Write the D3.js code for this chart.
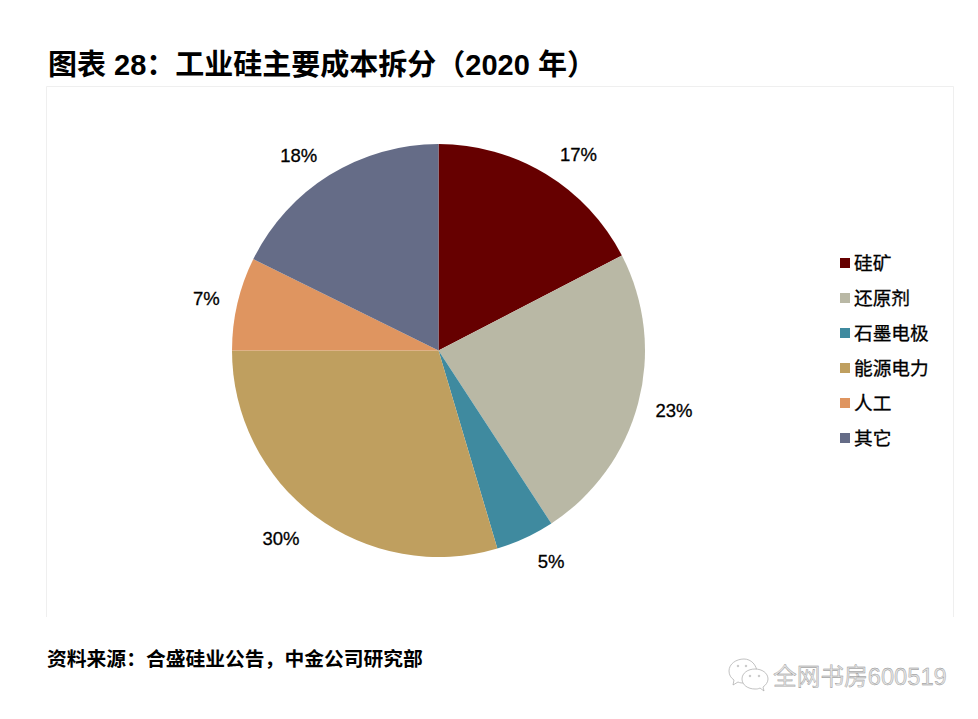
<!DOCTYPE html>
<html lang="zh">
<head>
    <meta charset="utf-8" />
    <title>工业硅主要成本拆分</title>
    <script src="https://d3js.org/d3.v7.min.js"></script>
    <style>
        html, body { margin: 0; padding: 0; background: #fff; }
        svg { display: block; }
        text { font-family: "Liberation Sans", "Noto Sans CJK SC", sans-serif; fill: #000; }
    </style>
</head>
<body>
    <script>
        // data
        var categories = ["硅矿", "还原剂", "石墨电极", "能源电力", "人工", "其它"];
        var shares = [17.4, 23.4, 4.6, 29.6, 7.3, 17.7];
        var colors = ["#660000", "#b9b8a5", "#3f8a9f", "#bf9f5f", "#df9560", "#656c87"];
        var titleText = "图表 28：工业硅主要成本拆分（2020 年）";
        var sourceText = "资料来源：合盛硅业公告，中金公司研究部";
        var watermarkText = "全网书房600519";

        var width = 978;
        var height = 719;
        var cx = 438.5;
        var cy = 350.5;
        var radius = 206.5;

        // small hand corrections for the pie labels
        var labelNudgeX = [4, -1, -1, -4, 6, -2];
        var labelNudgeY = [4, -5, -1, 0, 7, 4];

        var svg = d3.select("body").append("svg")
            .attr("width", width)
            .attr("height", height);

        // title and source
        svg.append("text").attr("x", 48).attr("y", 75)
            .attr("font-size", 29).attr("font-weight", "bold")
            .text(titleText);
        svg.append("text").attr("x", 47).attr("y", 666)
            .attr("font-size", 19.8).attr("font-weight", "bold")
            .text(sourceText);

        // chart frame, open at the bottom
        svg.append("path")
            .attr("d", "M46.5,617V86.5H953.5V617")
            .attr("fill", "none")
            .attr("stroke", "#efefef");

        // pie
        var pie = d3.pie().sort(null).value(function (d) { return d; });
        var arc = d3.arc().innerRadius(0).outerRadius(radius);
        var arcs = pie(shares);

        var g = svg.append("g").attr("transform", "translate(" + cx + "," + cy + ")");
        g.selectAll("path")
            .data(arcs)
            .enter().append("path")
            .attr("d", arc)
            .attr("fill", function (d, i) { return colors[i]; });

        // labels sit outside the pie, box corner towards the circle
        var fmt = d3.format(".0f");
        var labelRadius = 225;
        g.selectAll("text")
            .data(arcs)
            .enter().append("text")
            .attr("text-anchor", "middle")
            .attr("dominant-baseline", "central")
            .attr("font-size", 18.5)
            .attr("stroke", "#000")
            .attr("stroke-width", 0.3)
            .attr("x", function (d, i) {
                var a = (d.startAngle + d.endAngle) / 2;
                var s = Math.sin(a);
                return labelRadius * s + (s > 0 ? 19 : -19) + labelNudgeX[i];
            })
            .attr("y", function (d, i) {
                var a = (d.startAngle + d.endAngle) / 2;
                var c = -Math.cos(a);
                return labelRadius * c + (c > 0 ? 8 : -8) + labelNudgeY[i];
            })
            .text(function (d) { return fmt(d.value) + "%"; });

        // legend
        var legendY = d3.scalePoint().domain(categories).range([263, 438]);
        var legend = svg.append("g").selectAll("g")
            .data(categories)
            .enter().append("g")
            .attr("transform", function (d) { return "translate(840," + legendY(d) + ")"; });
        legend.append("rect")
            .attr("x", 0).attr("y", -5)
            .attr("width", 10).attr("height", 10)
            .attr("fill", function (d, i) { return colors[i]; });
        legend.append("text")
            .attr("x", 14)
            .attr("dominant-baseline", "central")
            .attr("font-size", 18.7)
            .attr("stroke", "#000")
            .attr("stroke-width", 0.3)
            .text(function (d) { return d; });

        // watermark
        var mark = svg.append("g").attr("fill", "#fff").attr("stroke", "#a8a8a8").attr("stroke-width", 0.7);
        mark.append("path").attr("d", "M744,659c-8,0-15,5-15,12c0,4,2,7,5,9l-1,5l5,-3c2,1,4,1,6,1c6,0,13,-2,13,-10c0,-8,-6,-14,-13,-14z");
        mark.append("path").attr("d", "M755,669c-7,0-13,4-13,10c0,6,6,10,13,10c2,0,3,0,5,-1l4,3l-1,-4c3,-2,5,-5,5,-8c0,-6,-6,-10,-13,-10z");
        [[738, 666], [746, 666], [750, 676], [759, 676]].forEach(function (p) {
            mark.append("circle").attr("cx", p[0]).attr("cy", p[1]).attr("r", 0.8);
        });
        mark.append("text").attr("x", 773).attr("y", 685)
            .attr("font-size", 23.7)
            .attr("stroke", "#8a8a8a")
            .attr("stroke-width", 0.35)
            .style("fill", "#e2e2e2")
            .text(watermarkText);
    </script>
</body>
</html>
